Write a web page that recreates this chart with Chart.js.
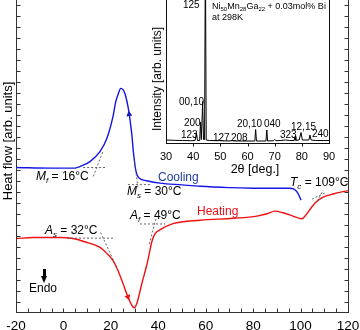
<!DOCTYPE html>
<html lang="en">
<head>
<meta charset="UTF-8">
<title>DSC - Ni50Mn28Ga22 + 0.03mol% Bi</title>
<script src="https://cdn.jsdelivr.net/npm/chart.js"></script>
<style>
  body { margin: 0; background: #fff; }
  #fig { position: relative; width: 360px; height: 330px; overflow: hidden; font-family: "Liberation Sans", Arial, sans-serif; color: #000; }
  .box { position: absolute; }
  .t { position: absolute; font-size: 12px; line-height: 12px; white-space: nowrap; }
  .t sub { font-size: 8px; vertical-align: -3px; line-height: 0; }
  .pk { position: absolute; font-size: 10px; line-height: 10px; white-space: nowrap; }
  .pk sub { font-size: 6px; vertical-align: -2px; line-height: 0; }
  .rot { position: absolute; white-space: nowrap; transform: translate(-50%, -50%) rotate(-90deg); }
</style>
</head>
<body>
<div id="fig">
  <div class="box" style="left:0;top:-10px;width:360px;height:343px"><canvas id="dsc"></canvas></div>
  <div class="box" style="left:140px;top:-10px;width:200px;height:180px"><canvas id="xrd"></canvas></div>

  <div class="rot" style="left:7px;top:141px;font-size:13px">Heat flow [arb. units]</div>

  <div class="t" style="left:36px;top:170px"><i>M</i><sub><i>f</i></sub> = 16°C</div>
  <div class="t" style="left:127px;top:185px"><i>M</i><sub><i>s</i></sub> = 30°C</div>
  <div class="t" style="left:158px;top:171px;color:#203c9c">Cooling</div>
  <div class="t" style="left:290px;top:176px"><i>T</i><sub><i>c</i></sub> = 109°C</div>
  <div class="t" style="left:197px;top:205px;color:#e8101a">Heating</div>
  <div class="t" style="left:130px;top:209px"><i>A</i><sub><i>f</i></sub> = 49°C</div>
  <div class="t" style="left:45px;top:224px"><i>A</i><sub><i>s</i></sub> = 32°C</div>
  <div class="t" style="left:29px;top:282px">Endo</div>
  <div class="box" style="left:43px;top:269px;width:3px;height:8px;background:#000"></div>
  <div class="box" style="left:41px;top:276px;width:0;height:0;border-left:3.5px solid transparent;border-right:3.5px solid transparent;border-top:7px solid #000"></div>

  <!-- inset texts -->
  <div class="rot" style="left:157px;top:79px;font-size:12px">Intensity [arb. units]</div>
  <div class="t" style="left:255px;top:163px;font-size:12.5px;transform:translateX(-50%)">2θ [deg.]</div>
  <div class="pk" style="left:212px;top:1px;font-size:9px">Ni<sub>50</sub>Mn<sub>28</sub>Ga<sub>22</sub> + 0.03mol% Bi</div>
  <div class="pk" style="left:212px;top:12px;font-size:9px">at 298K</div>
  <div class="pk" style="left:183px;top:0px">125</div>
  <div class="pk" style="left:179px;top:97px">00,10</div>
  <div class="pk" style="left:184px;top:118px">200</div>
  <div class="pk" style="left:181px;top:130px">123</div>
  <div class="pk" style="left:213px;top:133px">127</div>
  <div class="pk" style="left:231px;top:133px">208</div>
  <div class="pk" style="left:237px;top:119px">20,10</div>
  <div class="pk" style="left:264px;top:119px">040</div>
  <div class="pk" style="left:280px;top:130px">323</div>
  <div class="pk" style="left:291px;top:122px">12,15</div>
  <div class="pk" style="left:312px;top:129px">240</div>
</div>

<script>
// DSC cooling run: temperature (°C) and heat flow (arb.)
const coolT  = [-20, -5, 5, 7, 11.2, 15.4, 18.3, 21, 22, 23.1, 24.2, 25.2, 26, 27.4, 28.8, 29.5, 30.6, 32, 35.1, 40.7, 50, 57.6, 70, 80, 90, 95.5, 97, 98.3, 99.3, 100.2];
const coolHF = [13.2, 13.15, 13.15, 13.29, 13.74, 14.64, 15.84, 17.95, 19.14, 19.89, 20.41, 20.27, 19.89, 18.54, 16.29, 14.64, 12.84, 12.23, 12.0, 11.78, 11.62, 11.49, 11.37, 11.32, 11.31, 11.32, 11.26, 11.04, 10.68, 10.23];

// DSC heating run
const heatT  = [-20, -12.8, -1.4, 4, 9.9, 15.4, 18.4, 20.9, 23, 25.1, 27.2, 29.3, 29.9, 31, 33.1, 35.3, 37.4, 38.6, 40.7, 46.2, 57.6, 71.5, 81.6, 85.9, 89.2, 92.6, 96.8, 100.6, 101.9, 104, 106.1, 109.5, 113.7, 120];
const heatHF = [6.74, 6.83, 6.83, 6.74, 6.38, 5.93, 5.36, 4.73, 3.83, 2.66, 1.42, 0.52, 0.43, 0.86, 2.66, 4.46, 6.53, 7.16, 7.52, 8.09, 8.4, 8.58, 8.78, 8.99, 9.23, 9.08, 8.78, 8.54, 8.78, 9.39, 9.98, 10.5, 10.79, 11.1];

// tangent construction lines (Mf, Ms, As, Af, Tc)
const tangentT  = [[8.3, 17.5], [12.6, 16.6], [27.2, 36.5], [30.0, 31.5], [1.5, 21.8], [15.7, 22.7], [32.3, 42.8], [36.2, 39.1], [104.8, 110.3], [107.0, 109.5]];
const tangentHF = [[13.2, 13.2], [12.39, 14.64], [11.64, 11.64], [13.74, 11.22], [6.77, 6.77], [7.28, 3.98], [8.06, 8.06], [6.23, 8.6], [10.32, 10.88], [10.14, 11.13]];

// direction arrows on the curves
const arrowT  = [27.7, 27.2];
const arrowHF = [18.05, 1.42];

const tempTicks = [-20, 0, 20, 40, 60, 80, 100, 120];

// inset XRD pattern at 298 K
const twoTheta  = [30, 33, 36, 39, 40.7, 41.2, 41.6, 42.4, 42.7, 43.0, 43.2, 43.5, 43.8, 44.2, 44.5, 44.8, 46, 49.2, 49.5, 49.8, 52, 54.1, 54.3, 54.5, 58, 62.7, 63.0, 63.3, 66.8, 67.1, 67.4, 69.5, 70, 70.5, 72, 74, 75.5, 77.2, 77.5, 77.8, 79.0, 79.7, 80.2, 81.5, 82.6, 83.0, 83.4, 85, 88, 90];
const intensity = [3.5, 3.2, 3.0, 2.8, 3.0, 10.5, 3.0, 3.0, 21.5, 4, 4, 42, 4, 4, 200, 3.5, 3.0, 2.8, 4.0, 2.8, 2.6, 2.6, 3.5, 2.6, 2.5, 2.5, 14, 2.5, 2.5, 13.5, 2.5, 2.8, 4, 2.8, 3.0, 3.5, 3.0, 3.0, 7, 3.2, 3.5, 11, 3.5, 3.5, 3.5, 8.5, 3.5, 3, 3, 3];
const thetaTicks = [30, 40, 50, 60, 70, 80, 90];

const FONT = '"Liberation Sans", Arial, sans-serif';
const pts = (xs, ys) => xs.map((v, i) => ({ x: v, y: ys[i] }));

// frame + tick marks drawn with the chart's scales
const frame = {
    id: 'frame',
    beforeDatasetsDraw(chart, args, o) {
        if (!o.fill) return;
        const a = chart.chartArea;
        chart.ctx.save();
        chart.ctx.fillStyle = o.fill;
        chart.ctx.fillRect(a.left, a.top, a.width, a.height);
        chart.ctx.restore();
    },
    afterDraw(chart, args, o) {
        const { ctx, chartArea: a, scales: { x, y } } = chart;
        const L = Math.floor(a.left) + 0.5, R = Math.floor(a.right) + 0.5;
        const T = Math.floor(a.top) + 0.5, B = Math.floor(a.bottom) + 0.5;
        const d = o.inward ? -1 : 1;
        ctx.save();
        ctx.strokeStyle = o.color;
        ctx.lineWidth = 1;
        ctx.strokeRect(L, T, R - L, B - T);
        ctx.beginPath();
        for (let v = o.xFrom; v <= o.xTo + 1e-9; v += o.xStep) {
            const px = Math.round(x.getPixelForValue(v)) + 0.5;
            ctx.moveTo(px, B);
            ctx.lineTo(px, B + d * o.len);
        }
        if (o.yStep) {
            for (let v = o.yFrom; v <= o.yTo + 1e-9; v += o.yStep) {
                const py = Math.round(y.getPixelForValue(v)) + 0.5;
                ctx.moveTo(L, py); ctx.lineTo(L - d * o.len, py);
                ctx.moveTo(R, py); ctx.lineTo(R + d * o.len, py);
            }
        }
        ctx.stroke();
        ctx.restore();
    }
};

const tangentSets = tangentT.map((t, i) => ({
    data: pts(t, tangentHF[i]),
    borderColor: '#555',
    borderWidth: 0.9,
    borderDash: [2, 2],
    pointRadius: 0,
    tension: 0
}));

new Chart(document.getElementById('dsc'), {
    type: 'line',
    data: {
        datasets: [
            ...tangentSets,
            { data: pts(coolT, coolHF), borderColor: '#1414e6', borderWidth: 1.4, pointRadius: 0, cubicInterpolationMode: 'monotone' },
            { data: pts(heatT, heatHF), borderColor: '#f01010', borderWidth: 1.4, pointRadius: 0, cubicInterpolationMode: 'monotone' },
            {
                data: pts(arrowT, arrowHF),
                showLine: false,
                pointStyle: 'triangle',
                pointRadius: 3.5,
                pointRotation: [-8, 160],
                backgroundColor: ['#1a237e', '#f01010'],
                borderColor: ['#1a237e', '#f01010'],
                borderWidth: 0
            }
        ]
    },
    options: {
        responsive: true,
        maintainAspectRatio: false,
        animation: false,
        layout: { padding: { top: 0.6, right: 12, bottom: 0, left: 0 } },
        plugins: {
            legend: { display: false },
            tooltip: { enabled: false },
            frame: { color: '#333', inward: true, len: 4, xFrom: -20, xTo: 120, xStep: 5, yFrom: 1, yTo: 28, yStep: 1 }
        },
        scales: {
            x: {
                type: 'linear', min: -20, max: 120,
                afterBuildTicks: s => { s.ticks = tempTicks.map(v => ({ value: v })); },
                afterFit: s => { s.height = 20.5; s.paddingLeft = 0; s.paddingRight = 0; },
                grid: { display: false, drawTicks: false },
                border: { display: false },
                ticks: { font: { family: FONT, size: 13.5 }, color: '#000', padding: 6, maxRotation: 0 }
            },
            y: {
                min: 0, max: 29,
                afterFit: s => { s.width = 16; },
                ticks: { display: false },
                grid: { display: false, drawTicks: false },
                border: { display: false }
            }
        }
    },
    plugins: [frame]
});

new Chart(document.getElementById('xrd'), {
    type: 'line',
    data: {
        datasets: [{ data: pts(twoTheta, intensity), borderColor: '#000', borderWidth: 1, pointRadius: 0, tension: 0 }]
    },
    options: {
        responsive: true,
        maintainAspectRatio: false,
        animation: false,
        layout: { padding: { top: 3.5, right: 11, bottom: 0, left: 0 } },
        plugins: {
            legend: { display: false },
            tooltip: { enabled: false },
            frame: { color: '#111', fill: '#fff', inward: false, len: 3, xFrom: 40, xTo: 80, xStep: 10 }
        },
        scales: {
            x: {
                type: 'linear', min: 30, max: 90,
                afterBuildTicks: s => { s.ticks = thetaTicks.map(v => ({ value: v })); },
                afterFit: s => { s.height = 26.5; s.paddingLeft = 0; s.paddingRight = 0; },
                grid: { display: false, drawTicks: false },
                border: { display: false },
                ticks: { font: { family: FONT, size: 11 }, color: '#000', padding: 7, maxRotation: 0 }
            },
            y: {
                min: 0, max: 150,
                afterFit: s => { s.width = 26; },
                ticks: { display: false },
                grid: { display: false, drawTicks: false },
                border: { display: false }
            }
        }
    },
    plugins: [frame]
});
</script>
</body>
</html>
